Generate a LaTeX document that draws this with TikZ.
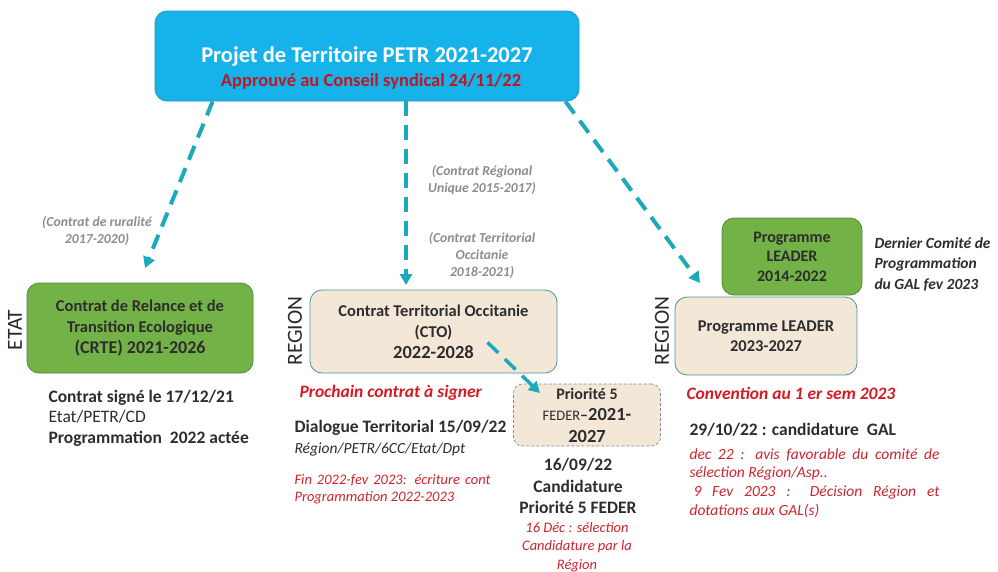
\documentclass[tikz,border=0pt]{standalone}
\usepackage{fontspec}
\setmainfont{Carlito}
\usetikzlibrary{arrows.meta}
\definecolor{petrblue}{RGB}{22,178,234}
\definecolor{petrline}{RGB}{30,150,190}
\definecolor{flowteal}{RGB}{26,170,186}
\definecolor{crtegreen}{RGB}{114,178,70}
\definecolor{greenline}{RGB}{84,140,50}
\definecolor{ctobeige}{RGB}{243,231,216}
\definecolor{beigeline}{RGB}{70,150,150}
\definecolor{redtxt}{RGB}{215,25,35}
\definecolor{redsoft}{RGB}{205,35,45}
\definecolor{greytxt}{RGB}{140,140,140}
\definecolor{darktxt}{RGB}{45,45,45}
\newcommand\fsz[2]{\fontsize{#1}{#2}\selectfont}
\begin{document}
\begin{tikzpicture}[x=1pt, y=-1pt, line join=round, >={Triangle[length=11pt,width=12pt]},
  box/.style={rounded corners=12pt, line width=0.8pt, align=center, text=darktxt, font=\bfseries\fsz{16.5}{21}},
  greenbox/.style={box, fill=crtegreen, draw=greenline},
  beigebox/.style={box, fill=ctobeige, draw=beigeline},
  flow/.style={->, draw=flowteal, line width=4pt, dash pattern=on 15pt off 9pt},
  note/.style={text=greytxt, align=center, font=\bfseries\itshape\fsz{13.7}{17}},
  side/.style={rotate=90, text=darktxt!90!black, font=\fsz{21.5}{21.5}},
  redhead/.style={text=redtxt, font=\bfseries\itshape\fsz{17.5}{20}},
  redsmall/.style={text=redsoft, font=\itshape\fsz{14.5}{18.5}},
  plain/.style={text=darktxt, font=\fsz{17.5}{20.5}}]
\useasboundingbox (0,0) rectangle (998,571);
% top project box
\node[box, fill=petrblue, draw=petrline, minimum width=424pt, minimum height=90pt, text=white] (petr) at (367,56) {};
\node[text=white, font=\bfseries\fsz{22.5}{22.5}] (petrtitle) at (367,57) {Projet de Territoire PETR 2021-2027};
\node[text=redtxt!90!black, font=\bfseries\fsz{18.5}{18.5}] (petrsub) at (371,81) {Approuvé au Conseil syndical 24/11/22};
% contract boxes
\node[greenbox, minimum width=226pt, minimum height=90pt] (crte) at (140,328)
  {Contrat de Relance et de\\Transition Ecologique\\{\fsz{18}{21}(CRTE) 2021-2026}};
\node[beigebox, minimum width=247pt, minimum height=83pt] (cto) at (433.5,331.5)
  {Contrat Territorial Occitanie\\(CTO)\\{\fsz{18.5}{21}2022-2028}};
\node[beigebox, draw=greytxt!80!beigeline, densely dashed, line width=0.7pt, rounded corners=9pt,
  minimum width=147pt, minimum height=62pt, font=\bfseries\fsz{16}{21.5}] (feder) at (587,415)
  {Priorité 5\\{\mdseries\fsz{14.5}{21.5}FEDER}–{\fsz{18.5}{21.5}2021-}\\{\fsz{18.5}{21.5}2027}};
\node[greenbox, minimum width=140pt, minimum height=77pt, font=\bfseries\fsz{16}{19.5}] (leaderold) at (792,256.5)
  {Programme\\LEADER\\2014-2022};
\node[beigebox, minimum width=182pt, minimum height=78pt, font=\bfseries\fsz{16.5}{20}] (leader) at (766,336)
  {Programme LEADER\\2023-2027};
% side labels
\node[side] (etat) at (15,330) {ETAT};
\node[side] (regcto) at (295,331) {REGION};
\node[side] (regleader) at (662,331) {REGION};
% former contracts
\node[note] (rural) at (97,231) {(Contrat de ruralité\\2017-2020)};
\node[note] (cru) at (482,180) {(Contrat Régional\\Unique 2015-2017)};
\node[note] (ctoold) at (482,255) {(Contrat Territorial\\Occitanie\\2018-2021)};
% arrows
\coordinate (crtein) at (145,268);
\coordinate (ctoin) at (406,285);
\coordinate (leaderin) at (700,283);
\coordinate (federin) at (540,393);
\draw[flow] ([xshift=58pt]petr.south west) -- (crtein);
\draw[flow] ([xshift=39pt]petr.south) -- (ctoin);
\draw[flow] ([xshift=-14pt]petr.south east) -- (leaderin);
\draw[flow, line width=3.5pt] ([xshift=54pt,yshift=31pt]cto.south) -- (federin);
% texts under CRTE
\node[plain, anchor=west, align=left] (crtetxt) at (45,418)
  {\textbf{Contrat signé le 17/12/21}\\Etat/PETR/CD\\\textbf{Programmation\ \ 2022 actée}};
% texts under CTO
\node[redhead, anchor=west] (ctonext) at (296,393) {Prochain contrat à signer};
\node[plain, anchor=west, align=left] (ctodial) at (291,438)
  {\textbf{Dialogue Territorial 15/09/22}\\{\itshape\fsz{15.5}{20}Région/PETR/6CC/Etat/Dpt}};
\node[redsmall, anchor=west, align=left, font=\itshape\fsz{14.5}{17.5}] (ctowrite) at (291,489)
  {\makebox[196pt][s]{Fin 2022-fev 2023: écriture cont}\\Programmation 2022-2023};
% texts under FEDER
\node[plain, align=center, font=\bfseries\fsz{17.5}{21.5}] (federcand) at (578,486)
  {16/09/22\\Candidature\\Priorité 5 FEDER};
\node[redsmall, align=center] (federsel) at (577,547)
  {16 Déc : sélection\\Candidature par la\\Région};
% texts for LEADER
\node[plain, anchor=west, align=left, font=\bfseries\itshape\fsz{15.5}{20.5}] (galend) at (871,264)
  {Dernier Comité de\\Programmation\\du GAL fev 2023};
\node[redhead, anchor=west] (leaderconv) at (683,393) {Convention au 1 er sem 2023};
\node[plain, anchor=west, font=\bfseries\fsz{17.5}{20}] (leadercand) at (686,430) {29/10/22 : candidature\ \ GAL};
\node[redsmall, anchor=west, align=left, font=\itshape\fsz{15.5}{18.7}] (leaderdec) at (686,483)
  {\makebox[250pt][s]{dec 22 : avis favorable du comité de}\\sélection Région/Asp..\\
   \hspace*{4pt}\makebox[246pt][s]{9 Fev 2023 : Décision Région et}\\dotations aux GAL(s)};
\end{tikzpicture}
\end{document}
